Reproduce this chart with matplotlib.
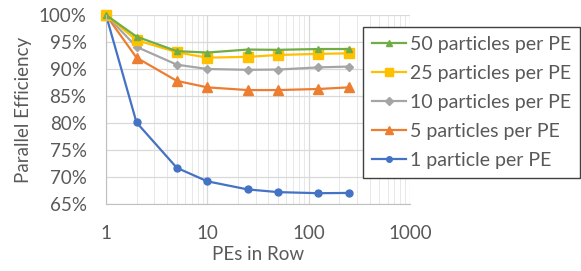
import matplotlib
matplotlib.use("Agg")
import matplotlib.pyplot as plt
from matplotlib.ticker import FuncFormatter, LogLocator, NullFormatter

plt.rcParams['font.family'] = ['Lato', 'DejaVu Sans']

# PEs in row (x) and parallel efficiency in % for each particle count
pes = [1, 2, 5, 10, 25, 50, 125, 250]
eff_1 = [100, 80.1, 71.7, 69.2, 67.7, 67.2, 67.0, 67.05]
eff_5 = [100, 92.1, 87.8, 86.6, 86.1, 86.1, 86.3, 86.6]
eff_10 = [100, 94.1, 90.8, 90.0, 89.85, 89.9, 90.3, 90.45]
eff_25 = [100, 95.35, 93.1, 92.1, 92.25, 92.6, 92.8, 92.9]
eff_50 = [100, 96.0, 93.3, 93.05, 93.6, 93.55, 93.7, 93.7]

labels = ["1 particle per PE", "5 particles per PE", "10 particles per PE",
          "25 particles per PE", "50 particles per PE"]

fs = 13.5
fig = plt.figure(figsize=(5.81, 2.71), dpi=100)
ax = fig.add_axes([106/581, 1 - 204/271, (410 - 106)/581, (204 - 15)/271])

# style per series: colour, marker, marker size
styles = [("#4472C4", "o", 5), ("#ED7D31", "^", 7), ("#A5A5A5", "D", 4.5),
          ("#FFC000", "s", 6.5), ("#70AD47", "^", 5)]
series = [eff_1, eff_5, eff_10, eff_25, eff_50]
for vals, lab, (col, mk, ms) in zip(series, labels, styles):
    ax.plot(pes, vals, color=col, marker=mk, markersize=ms, linewidth=1.6,
            label=lab, clip_on=False)

ax.set_xscale("log")
ax.set_xlim(1, 1000)
ax.set_ylim(65, 100)
ax.set_yticks(range(65, 101, 5))
ax.yaxis.set_major_formatter(FuncFormatter(lambda v, p: f"{v:.0f}%"))
ax.xaxis.set_major_formatter(FuncFormatter(lambda v, p: f"{v:g}"))
ax.xaxis.set_minor_locator(LogLocator(base=10, subs=range(2, 10)))
ax.xaxis.set_minor_formatter(NullFormatter())

ax.grid(True, which="major", color="#D9D9D9", linewidth=0.9)
ax.grid(True, which="minor", axis="x", color="#E8E8E8", linewidth=0.7)
ax.set_axisbelow(True)
for s in ["top", "right"]:
    ax.spines[s].set_visible(False)
for s in ["left", "bottom"]:
    ax.spines[s].set_color("#BFBFBF")
ax.tick_params(which="both", length=0, colors="#595959", labelsize=fs)
ax.tick_params(axis="x", pad=15)
ax.tick_params(axis="y", pad=14)

ax.set_xlabel("PEs in Row", color="#595959", fontsize=fs, labelpad=3)
ax.set_ylabel("Parallel Efficiency", color="#595959", fontsize=fs, labelpad=5)

h, l = ax.get_legend_handles_labels()
leg = fig.legend(h[::-1], l[::-1], loc="upper left",
                 bbox_to_anchor=(363/581, 1 - 27/271), fontsize=14,
                 frameon=True, fancybox=False, borderaxespad=0,
                 handlelength=1.75, handletextpad=0.2, labelspacing=0.62,
                 borderpad=0.45, labelcolor="#595959", markerscale=0.8)
leg.get_frame().set_edgecolor("#404040")
leg.get_frame().set_linewidth(1.0)
leg.get_frame().set_alpha(1)

fig.savefig("out.png", dpi=100)
